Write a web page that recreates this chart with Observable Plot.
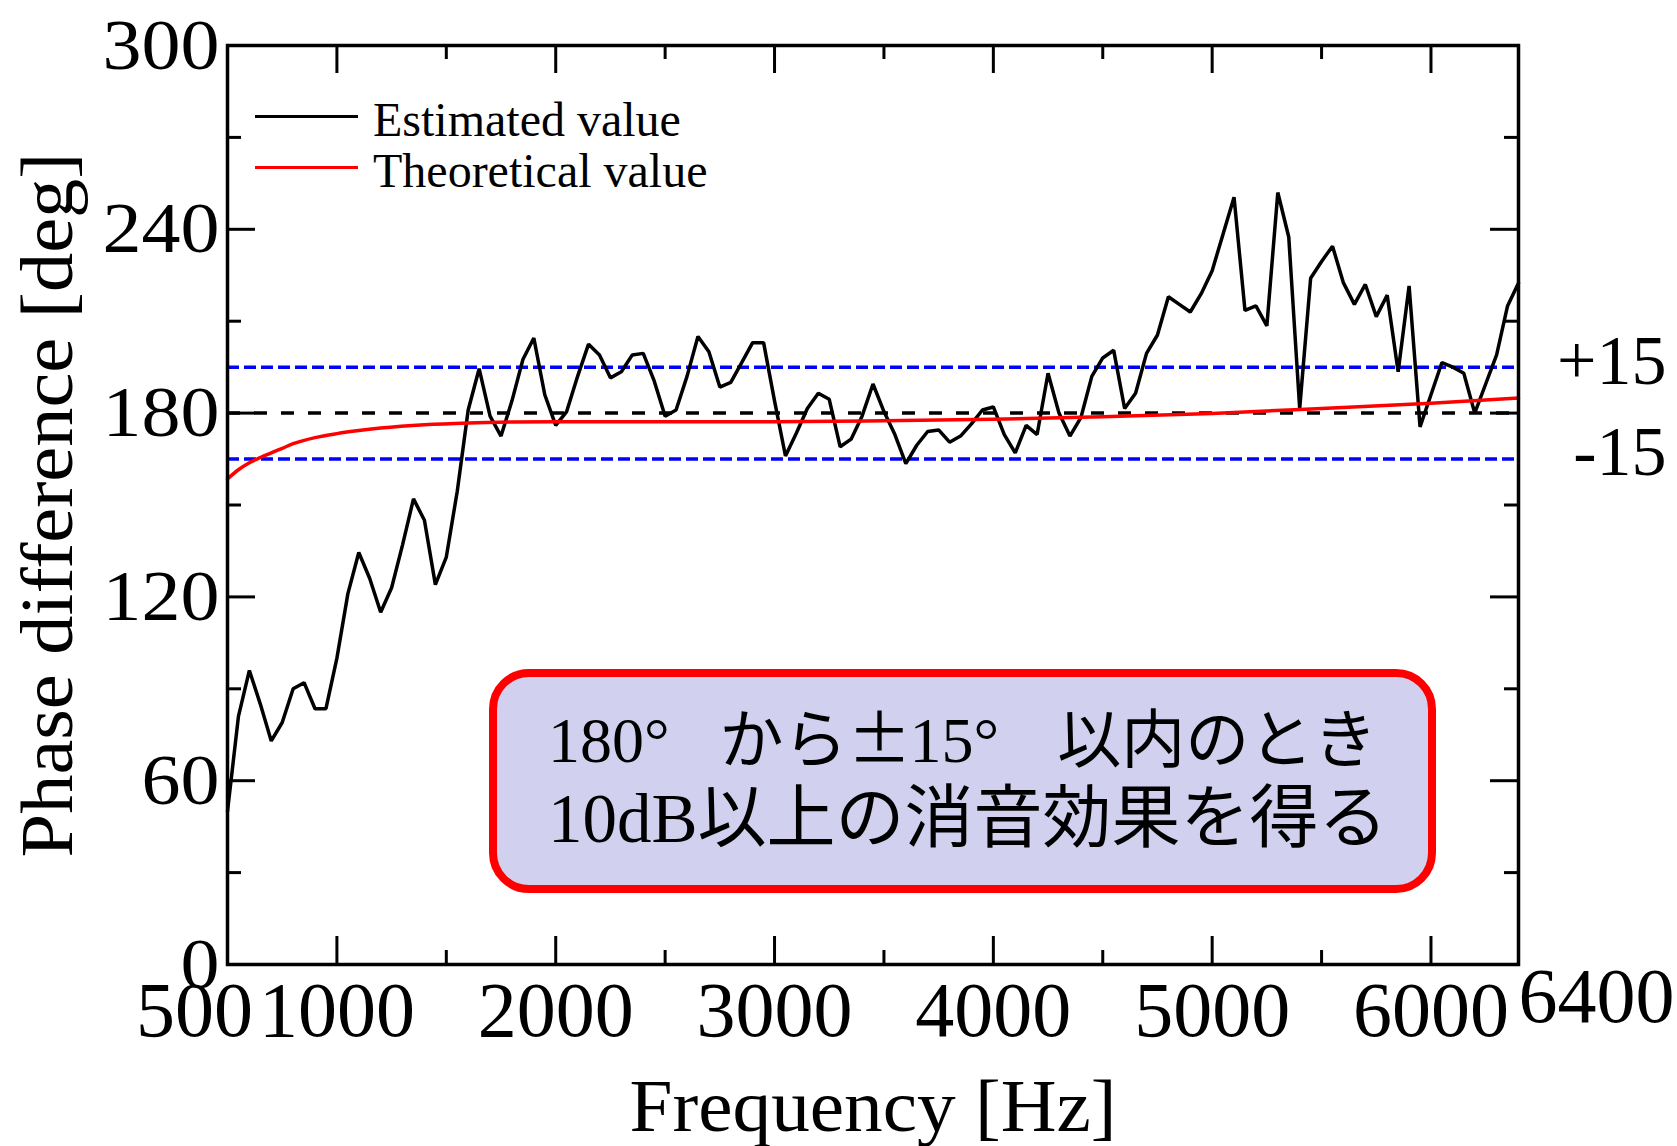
<!DOCTYPE html>
<html>
<head>
<meta charset="utf-8">
<script src="https://cdn.jsdelivr.net/npm/d3@7"></script>
<script src="https://cdn.jsdelivr.net/npm/@observablehq/plot@0.6"></script>
<style>
  html, body { margin: 0; padding: 0; background: #ffffff; }
  #wrap { position: relative; width: 1677px; height: 1146px; overflow: hidden; background: #fff; }
  #legend { position: absolute; left: 255px; top: 94px; font-family: "Liberation Serif", serif; font-size: 48px; line-height: 51px; color: #000; white-space: nowrap; }
  #legend .sw { display: inline-block; width: 103px; height: 3px; vertical-align: 18px; margin-right: 15px; }
  #note { position: absolute; left: 489px; top: 669px; width: 947px; height: 224px; box-sizing: border-box;
          border: 8px solid #ff0000; border-radius: 40px; background: #d1d1ef; }
  #note .l { position: absolute; white-space: nowrap; color: #000;
             font-family: "Liberation Serif", "Noto Sans CJK JP", serif; }
  #note .cjk { font-family: "Noto Sans CJK JP", sans-serif; }
  #note .gap { display: inline-block; }
  #note .pm { display: inline-block; text-align: center; font-family: "Noto Sans CJK JP", sans-serif; }
</style>
</head>
<body>
<div id="wrap"></div>
<script>
// ---- data ----
const freqStart = 500, freqStep = 50;
const estimatedValue = [
  50, 81, 96, 85, 73, 79, 90, 92, 83.5, 83.5,
  100, 121, 134.5, 126, 115, 123, 137, 152, 145, 124,
  133, 154.5, 181, 194.5, 179, 172.5, 184, 197.5, 204.5, 186,
  176, 180.5, 192, 202.5, 199, 191.5, 193.5, 199, 199.5, 190.5,
  179, 181, 192, 205, 200, 188.5, 190, 196.5, 203, 203,
  184, 166, 173.5, 181.5, 186.5, 184.5, 169, 171.5, 179, 189.5,
  180.5, 173, 163.5, 169.5, 174, 174.5, 170.5, 172.5, 176.5, 181,
  182, 173, 167, 176, 173, 193, 180, 172.5, 178.5, 192,
  198, 200.5, 181.5, 186.5, 199.5, 205.5, 218, 215.5, 213, 219,
  226.5, 238.5, 250.5, 213.5, 215, 208.5, 252, 237.5, 181.5, 224,
  229.5, 234.5, 222.5, 215.5, 222, 211.5, 218.5, 193.5, 221.5, 175.5,
  186, 196.5, 195, 193, 180, 189.5, 199, 215, 222.5
];
const estimatedFreq = estimatedValue.map((_, i) => freqStart + i * freqStep);

const theoFreq  = [500, 550, 600, 650, 700, 750, 800, 900, 1000, 1100, 1200, 1400, 1600, 1800, 2000, 2500, 3000, 3500, 4000, 4500, 5000, 5500, 6000, 6400];
const theoValue = [158.5, 161.5, 163.8, 165.5, 167, 168.5, 170, 172, 173.3, 174.3, 175.1, 176.2, 176.8, 177.1, 177.2, 177.2, 177.2, 177.5, 178, 178.8, 179.9, 181.5, 183.2, 184.9];

const refLine = [180];
const bandLines = [165, 195];
const bandLabels = [{v: 195, t: "+15"}, {v: 165, t: "-15"}];

const xMajor = [1000, 2000, 3000, 4000, 5000, 6000];
const xMinor = [1500, 2500, 3500, 4500, 5500];
const yMajor = [60, 120, 180, 240];
const yMinor = [30, 90, 150, 210, 270];
const xTickLabels = [1000, 2000, 3000, 4000, 5000, 6000];
const xEdgeLow = [500];
const xEdgeHigh = [6400];
const yTickLabels = [0, 60, 120, 180, 240, 300];

const seriesNames = ["Estimated value", "Theoretical value"];
const seriesColors = ["#000000", "#ff0000"];
const xTitle = "Frequency [Hz]";
const yTitle = "Phase difference [deg]";
const noteLine2 = "10dB以上の消音効果を得る";

// ---- layout ----
const W = 1677, H = 1146;
const mL = 227, mR = 159, mT = 45, mB = 182;
const FW = W - mL - mR, FH = H - mT - mB;
const majorLen = 28, minorLen = 14;

const est = estimatedFreq.map((f, i) => ({f, v: estimatedValue[i]}));
const theo = theoFreq.map((f, i) => ({f, v: theoValue[i]}));

const chart = Plot.plot({
  width: W, height: H,
  marginLeft: mL, marginRight: mR, marginTop: mT, marginBottom: mB,
  x: {domain: [500, 6400], axis: null},
  y: {domain: [0, 300], axis: null},
  style: {fontFamily: "'Liberation Serif', serif", fontSize: "72px", background: "#ffffff", color: "#000"},
  marks: [
    Plot.ruleY(bandLines, {y: d => d, stroke: "#0000ff", strokeWidth: 3.5, strokeDasharray: "12,5"}),
    Plot.ruleY(refLine, {y: d => d, stroke: "#000000", strokeWidth: 3.5, strokeDasharray: "13,14"}),
    Plot.line(est, {x: "f", y: "v", stroke: seriesColors[0], strokeWidth: 3.5, strokeLinejoin: "miter"}),
    Plot.line(theo, {x: "f", y: "v", stroke: seriesColors[1], strokeWidth: 3.5, curve: "monotone-x"}),
    // inward ticks
    Plot.tickX(xMajor, {x: d => d, insetTop: FH - majorLen, strokeWidth: 3}),
    Plot.tickX(xMinor, {x: d => d, insetTop: FH - minorLen, strokeWidth: 3}),
    Plot.tickX(xMajor, {x: d => d, insetBottom: FH - majorLen, strokeWidth: 3}),
    Plot.tickX(xMinor, {x: d => d, insetBottom: FH - minorLen, strokeWidth: 3}),
    Plot.tickY(yMajor, {y: d => d, insetRight: FW - majorLen, strokeWidth: 3}),
    Plot.tickY(yMinor, {y: d => d, insetRight: FW - minorLen, strokeWidth: 3}),
    Plot.tickY(yMajor, {y: d => d, insetLeft: FW - majorLen, strokeWidth: 3}),
    Plot.tickY(yMinor, {y: d => d, insetLeft: FW - minorLen, strokeWidth: 3}),
    Plot.frame({stroke: "#000", strokeWidth: 3.5}),
    // tick labels
    Plot.text(yTickLabels, {y: d => d, text: d => String(d), frameAnchor: "left", dx: -8, textAnchor: "end", lineAnchor: "middle", fontSize: 72, className: "ylab"}),
    Plot.text(xTickLabels, {x: d => d, text: d => String(d), frameAnchor: "bottom", dy: 47, lineAnchor: "middle", fontSize: 78}),
    Plot.text(xEdgeLow, {x: d => d, text: d => String(d), frameAnchor: "bottom", dx: -33, dy: 47, lineAnchor: "middle", fontSize: 78}),
    Plot.text(xEdgeHigh, {x: d => d, text: d => String(d), frameAnchor: "bottom", dx: 78, dy: 33, lineAnchor: "middle", fontSize: 78}),
    // band labels
    Plot.text(bandLabels, {y: "v", text: "t", frameAnchor: "right", dx: 148, dy: -6, textAnchor: "end", lineAnchor: "middle", fontSize: 70}),
    // axis titles
    Plot.text([xTitle], {text: d => d, frameAnchor: "bottom", dy: 143, textAnchor: "middle", lineAnchor: "middle", fontSize: 74}),
    Plot.text([yTitle], {text: d => d, frameAnchor: "left", dx: -179, rotate: -90, textAnchor: "middle", lineAnchor: "middle", fontSize: 74})
  ]
});

// condensed lettering like the reference
d3.select(chart).selectAll("text").each(function () {
  const t = this.textContent;
  let len = null;
  if (t === yTitle) len = 705;
  else if (t === xTitle) len = 487;
  else if (this.closest(".ylab")) len = 39 * t.length;
  if (len) {
    this.setAttribute("textLength", len);
    this.setAttribute("lengthAdjust", "spacingAndGlyphs");
  }
});

const wrap = document.getElementById("wrap");
wrap.appendChild(chart);

// legend (inside plot area)
const legend = document.createElement("div");
legend.id = "legend";
seriesNames.forEach((name, i) => {
  const row = document.createElement("div");
  const sw = document.createElement("span");
  sw.className = "sw";
  sw.style.background = seriesColors[i];
  row.appendChild(sw);
  row.appendChild(document.createTextNode(name));
  legend.appendChild(row);
});
wrap.appendChild(legend);

// annotation box
const note = document.createElement("div");
note.id = "note";
const l1 = document.createElement("div");
l1.className = "l";
l1.style.cssText = "left:51px; top:25px; font-size:64px; line-height:64px;";
l1.innerHTML = '180°<span class="gap" style="width:50px"></span><span class="cjk">から</span>' +
               '<span class="pm" style="width:62px">±</span>15°<span class="gap" style="width:58px"></span>' +
               '<span class="cjk">以内のとき</span>';
const l2 = document.createElement("div");
l2.className = "l";
l2.style.cssText = "left:51px; top:108px; font-size:69px; line-height:69px;";
l2.textContent = noteLine2;
note.appendChild(l1);
note.appendChild(l2);
wrap.appendChild(note);
</script>
</body>
</html>
